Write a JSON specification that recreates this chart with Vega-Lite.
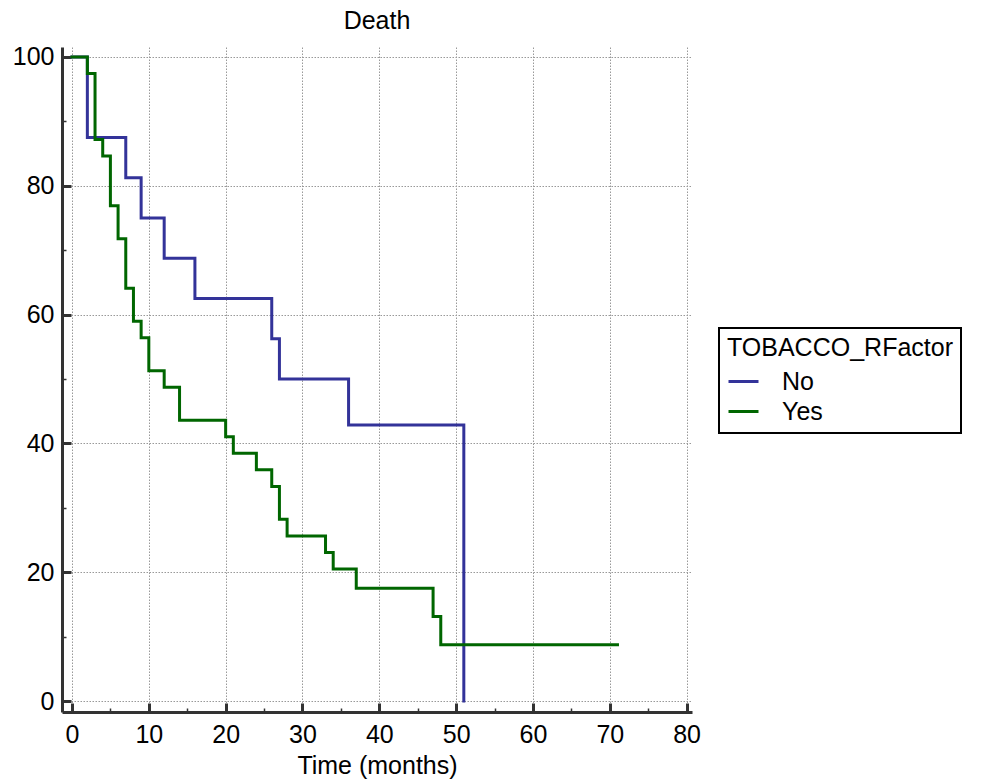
{
  "$schema": "https://vega.github.io/schema/vega-lite/v6.json",
  "autosize": {"type": "none"},
  "width": 630,
  "height": 665,
  "padding": {"left": 62, "top": 47, "right": 295, "bottom": 71},
  "background": "white",
  "title": {"text": "Death", "fontSize": 25, "font": "Liberation Sans", "fontWeight": "normal", "color": "black", "anchor": "middle", "frame": "group", "offset": 11},
  "data": {"values": [
    {"group": "No", "time": 0, "surv": 100},
    {"group": "No", "time": 2, "surv": 87.5},
    {"group": "No", "time": 7, "surv": 81.25},
    {"group": "No", "time": 9, "surv": 75},
    {"group": "No", "time": 12, "surv": 68.75},
    {"group": "No", "time": 16, "surv": 62.5},
    {"group": "No", "time": 26, "surv": 56.25},
    {"group": "No", "time": 27, "surv": 50},
    {"group": "No", "time": 36, "surv": 42.86},
    {"group": "No", "time": 51, "surv": 0},
    {"group": "Yes", "time": 0, "surv": 100},
    {"group": "Yes", "time": 2, "surv": 97.44},
    {"group": "Yes", "time": 3, "surv": 87.18},
    {"group": "Yes", "time": 4, "surv": 84.62},
    {"group": "Yes", "time": 5, "surv": 76.92},
    {"group": "Yes", "time": 6, "surv": 71.79},
    {"group": "Yes", "time": 7, "surv": 64.1},
    {"group": "Yes", "time": 8, "surv": 58.97},
    {"group": "Yes", "time": 9, "surv": 56.41},
    {"group": "Yes", "time": 10, "surv": 51.28},
    {"group": "Yes", "time": 12, "surv": 48.72},
    {"group": "Yes", "time": 14, "surv": 43.59},
    {"group": "Yes", "time": 20, "surv": 41.03},
    {"group": "Yes", "time": 21, "surv": 38.46},
    {"group": "Yes", "time": 24, "surv": 35.9},
    {"group": "Yes", "time": 26, "surv": 33.33},
    {"group": "Yes", "time": 27, "surv": 28.21},
    {"group": "Yes", "time": 28, "surv": 25.64},
    {"group": "Yes", "time": 33, "surv": 23.08},
    {"group": "Yes", "time": 34, "surv": 20.51},
    {"group": "Yes", "time": 37, "surv": 17.5},
    {"group": "Yes", "time": 47, "surv": 13.13},
    {"group": "Yes", "time": 48, "surv": 8.75},
    {"group": "Yes", "time": 71, "surv": 8.75}
  ]},
  "mark": {"type": "line", "interpolate": "step-after", "strokeWidth": 3, "strokeCap": "square", "clip": false},
  "encoding": {
    "x": {"field": "time", "type": "quantitative",
      "scale": {"domain": [-1.3, 80.7], "nice": false, "zero": false},
      "axis": {"title": "Time (months)", "values": [0,5,10,15,20,25,30,35,40,45,50,55,60,65,70,75,80],
        "labelExpr": "datum.value % 10 === 0 ? datum.label : ''",
        "tickSize": {"condition": {"test": "datum.value % 10 === 0", "value": -9}, "value": -4},
        "tickWidth": {"condition": {"test": "datum.value % 10 === 0", "value": 3}, "value": 1.5},
        "gridOpacity": {"condition": {"test": "datum.value % 10 === 0", "value": 1}, "value": 0}}},
    "y": {"field": "surv", "type": "quantitative",
      "scale": {"domain": [-1.7, 101.55], "nice": false, "zero": false},
      "axis": {"title": null, "values": [0,10,20,30,40,50,60,70,80,90,100],
        "labelExpr": "datum.value % 20 === 0 ? datum.label : ''",
        "tickSize": {"condition": {"test": "datum.value % 20 === 0", "value": -9}, "value": -4},
        "tickWidth": {"condition": {"test": "datum.value % 20 === 0", "value": 3}, "value": 1.5},
        "gridOpacity": {"condition": {"test": "datum.value % 20 === 0", "value": 1}, "value": 0}}},
    "color": {"field": "group", "type": "nominal",
      "scale": {"domain": ["No", "Yes"], "range": ["#333399", "#006600"]},
      "legend": {"title": "TOBACCO_RFactor", "orient": "none", "legendX": 657, "legendY": 281,
        "symbolType": "stroke", "symbolSize": 900, "symbolStrokeWidth": 3,
        "strokeColor": "black", "padding": 8, "fillColor": "white", "titleLimit": 500, "labelLimit": 300}}
  },
  "config": {
    "view": {"stroke": null},
    "font": "Liberation Sans",
    "axis": {
      "domainColor": "#333333", "domainWidth": 3, "tickColor": "#333333",
      "grid": true, "gridColor": "#999999", "gridDash": [1.5, 1.5], "gridWidth": 1,
      "labelFont": "Liberation Sans", "labelFontSize": 25, "labelColor": "black",
      "titleFont": "Liberation Sans", "titleFontSize": 25, "titleFontWeight": "normal", "titleColor": "black"
    },
    "axisX": {"labelPadding": 19, "titlePadding": 6},
    "axisY": {"labelPadding": 17},
    "legend": {
      "titleFont": "Liberation Sans", "titleFontSize": 25, "titleFontWeight": "normal", "titleColor": "black",
      "labelFont": "Liberation Sans", "labelFontSize": 25, "labelColor": "black",
      "strokeWidth": 2, "labelOffset": 22, "rowPadding": 0, "titlePadding": 4
    }
  }
}
